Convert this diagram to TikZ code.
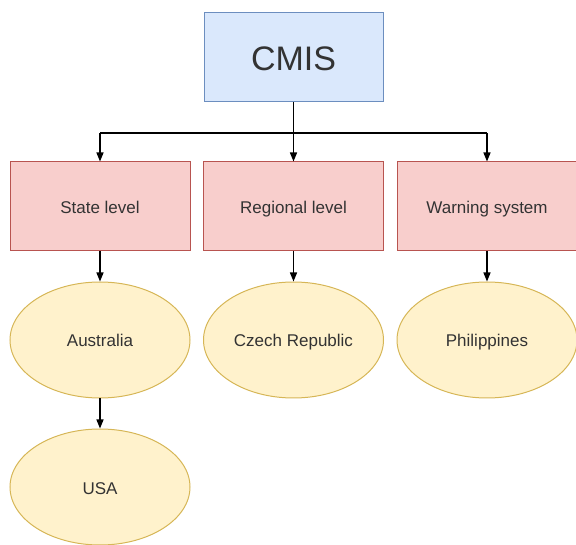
\documentclass[tikz,border=0pt]{standalone}
\usepackage{fontspec}
\setmainfont{Liberation Sans}
\usetikzlibrary{arrows.meta,shapes.geometric}

\definecolor{topfill}{HTML}{DAE8FC}
\definecolor{topline}{HTML}{6C8EBF}
\definecolor{boxfill}{HTML}{F8CECC}
\definecolor{boxline}{HTML}{B85450}
\definecolor{ovalfill}{HTML}{FFF2CC}
\definecolor{ovalline}{HTML}{D6B656}
\definecolor{txt}{HTML}{333333}

\tikzset{
	topbox/.style={draw=topline, fill=topfill, line width=1pt, minimum width=179pt, minimum height=89pt, inner sep=0pt, text=txt, text height=27pt, text depth=0pt, font=\fontsize{34}{36}\selectfont},
	levelbox/.style={draw=boxline, fill=boxfill, line width=1pt, minimum width=180pt, minimum height=89pt, inner sep=0pt, text=txt, text height=15pt, text depth=0pt, font=\fontsize{17}{19}\selectfont},
	country/.style={ellipse, draw=ovalline, fill=ovalfill, line width=1pt, minimum width=180pt, minimum height=116pt, inner sep=0pt, text=txt, text height=14pt, text depth=0pt, font=\fontsize{17}{19}\selectfont},
	link/.style={-{Triangle[width=7pt,length=9pt]}, line width=1.3pt, black}
}

\begin{document}
\begin{tikzpicture}[x=1pt, y=-1pt]
	\useasboundingbox (0,0) rectangle (576,545);
	
	% top node
	\node[topbox] (cmis) at (293.5,57.5) {CMIS};
	
	% levels
	\node[levelbox] (state) at (100,206.5) {State level};
	\node[levelbox] (region) at (293.5,206.5) {Regional level};
	\node[levelbox] (warn) at (487,206.5) {Warning system};
	
	% countries
	\node[country] (aus) at (100,340) {Australia};
	\node[country] (cze) at (293.5,340) {Czech Republic};
	\node[country] (phi) at (487,340) {Philippines};
	\node[country] (usa) at (100,487) {USA};
	
	% connectors
	\coordinate (bus) at (293.5,133);
	\draw[line width=1.3pt] (cmis.south) -- (bus);
	\draw[line width=1.3pt] (bus -| state) -- (bus -| warn);
	\foreach \n in {state,region,warn}{
		\draw[link] (bus -| \n) -- (\n.north);
	}
	\draw[link] (state) -- (aus);
	\draw[link] (region) -- (cze);
	\draw[link] (warn) -- (phi);
	\draw[link] (aus) -- (usa);
\end{tikzpicture}
\end{document}
